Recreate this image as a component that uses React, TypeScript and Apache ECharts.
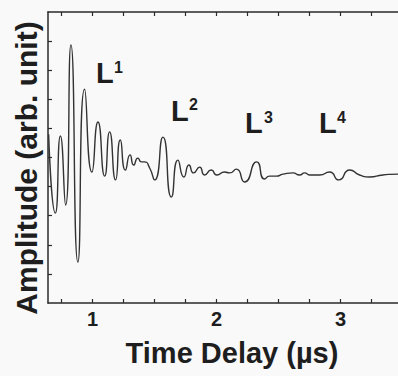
import React, { useEffect, useRef } from 'react';
import * as echarts from 'echarts';

// Waveform (time in µs, amplitude in arbitrary units)
const timeUs = [
  0.645, 0.699, 0.740, 0.782, 0.825, 0.881, 0.935, 0.994, 1.043, 1.097,
  1.137, 1.185, 1.223, 1.264, 1.302, 1.331, 1.365, 1.393, 1.419, 1.460,
  1.500, 1.567, 1.635, 1.688, 1.736, 1.777, 1.815, 1.863, 1.903, 1.957,
  2.002, 2.065, 2.105, 2.159, 2.226, 2.323, 2.387, 2.427, 2.481, 2.535,
  2.615, 2.669, 2.710, 2.750, 2.831, 2.911, 2.986, 3.073, 3.153, 3.234,
  3.341, 3.460, 3.500,
];
const amplitude = [
  0.80, -1.91, 0.74, -1.63, 3.87, -3.59, 2.35, -0.50, 1.22, -0.64,
  0.88, -0.77, 0.60, -0.43, 0.09, -0.26, -0.02, -0.15, -0.15, -0.36,
  -0.77, 0.70, -1.36, -0.09, -0.67, -0.26, -0.53, -0.33, -0.60, -0.43,
  -0.60, -0.50, -0.53, -0.40, -0.84, -0.15, -0.74, -0.64, -0.64, -0.57,
  -0.53, -0.60, -0.53, -0.60, -0.60, -0.50, -0.77, -0.43, -0.60, -0.67,
  -0.60, -0.57, -0.57,
];
const xTickValues = [0.75, 1, 1.25, 1.5, 1.75, 2, 2.25, 2.5, 2.75, 3, 3.25, 3.5];
const xLabelValues = [1, 2, 3];
const yTickValues = [-4, -3, -2, -1, 0, 1, 2, 3, 4];
const peakNames = ['L', 'L', 'L', 'L'];
const peakOrders = ['1', '2', '3', '4'];
const xTitle = 'Time Delay (\u00b5s)';
const yTitle = 'Amplitude (arb. unit)';

export default function App() {
  const ref = useRef<HTMLDivElement>(null);
  useEffect(() => {
    if (!ref.current) return;
    const chart = echarts.init(ref.current, null, { renderer: 'svg' });
    const family = '"Liberation Sans", Arial, sans-serif';
    const ink = '#1e1e1e';
    const axisColor = '#2a2a2a';
    // pixel anchors for the annotation letters
    const peakPos = [
      [96, 73, 114, 67],
      [171, 111, 189, 104],
      [245, 123, 264, 117],
      [319, 123, 337, 117],
    ];
    const graphics: any[] = [];
    peakNames.forEach((n, i) => {
      const p = peakPos[i];
      graphics.push({
        type: 'text', x: p[0], y: p[1], z: 10,
        style: {
          text: n, fill: ink, fontSize: 29, fontWeight: 'bold', fontFamily: family,
          align: 'left', verticalAlign: 'middle', textAlign: 'left', textVerticalAlign: 'middle',
        },
      });
      graphics.push({
        type: 'text', x: p[2], y: p[3], z: 10,
        style: {
          text: peakOrders[i], fill: ink, fontSize: 16, fontWeight: 'bold', fontFamily: family,
          align: 'left', verticalAlign: 'middle', textAlign: 'left', textVerticalAlign: 'middle',
        },
      });
    });
    graphics.push({
      type: 'text', x: 232, y: 353, z: 10,
      style: {
        text: xTitle, fill: ink, fontSize: 29, fontWeight: 'bold', fontFamily: family,
        align: 'center', verticalAlign: 'middle', textAlign: 'center', textVerticalAlign: 'middle',
      },
    });
    graphics.push({
      type: 'text', x: 26, y: 168, rotation: Math.PI / 2, z: 10,
      style: {
        text: yTitle, fill: ink, fontSize: 30, fontWeight: 'bold', fontFamily: family,
        align: 'center', verticalAlign: 'middle', textAlign: 'center', textVerticalAlign: 'middle',
      },
    });

    chart.setOption({
      animation: false,
      backgroundColor: '#f9f9f9',
      grid: { left: 48, top: 12, width: 354.6, height: 291, containLabel: false, outerBoundsMode: 'none' },
      xAxis: [
        {
          type: 'value', position: 'bottom', min: 0.64, max: 3.5,
          axisLine: { show: true, onZero: false, lineStyle: { color: axisColor, width: 1.5 } },
          axisTick: { show: true, inside: true, length: 4, customValues: xTickValues, lineStyle: { color: axisColor, width: 1.2 } },
          axisLabel: {
            show: true, customValues: xLabelValues, margin: 6, fontSize: 20, fontWeight: 'bold',
            color: ink, fontFamily: family,
          },
          splitLine: { show: false },
        },
        {
          type: 'value', position: 'top', min: 0.64, max: 3.5,
          axisLine: { show: true, onZero: false, lineStyle: { color: axisColor, width: 1.5 } },
          axisTick: { show: true, inside: true, length: 4, customValues: xTickValues, lineStyle: { color: axisColor, width: 1.2 } },
          axisLabel: { show: false },
          splitLine: { show: false },
        },
      ],
      yAxis: [
        {
          type: 'value', min: -5, max: 5,
          axisLine: { show: true, onZero: false, lineStyle: { color: axisColor, width: 1.5 } },
          axisTick: { show: true, inside: true, length: 4, customValues: yTickValues, lineStyle: { color: axisColor, width: 1.2 } },
          axisLabel: { show: false },
          splitLine: { show: false },
        },
      ],
      series: [
        {
          type: 'line',
          data: timeUs.map((t, i) => [t, amplitude[i]]),
          showSymbol: false,
          smooth: 0.65,
          lineStyle: { color: '#333', width: 1.4 },
        },
      ],
      graphic: graphics,
    });
    return () => chart.dispose();
  }, []);
  return <div ref={ref} style={{ position: 'fixed', left: 0, top: 0, width: 410, height: 376 }} />;
}
